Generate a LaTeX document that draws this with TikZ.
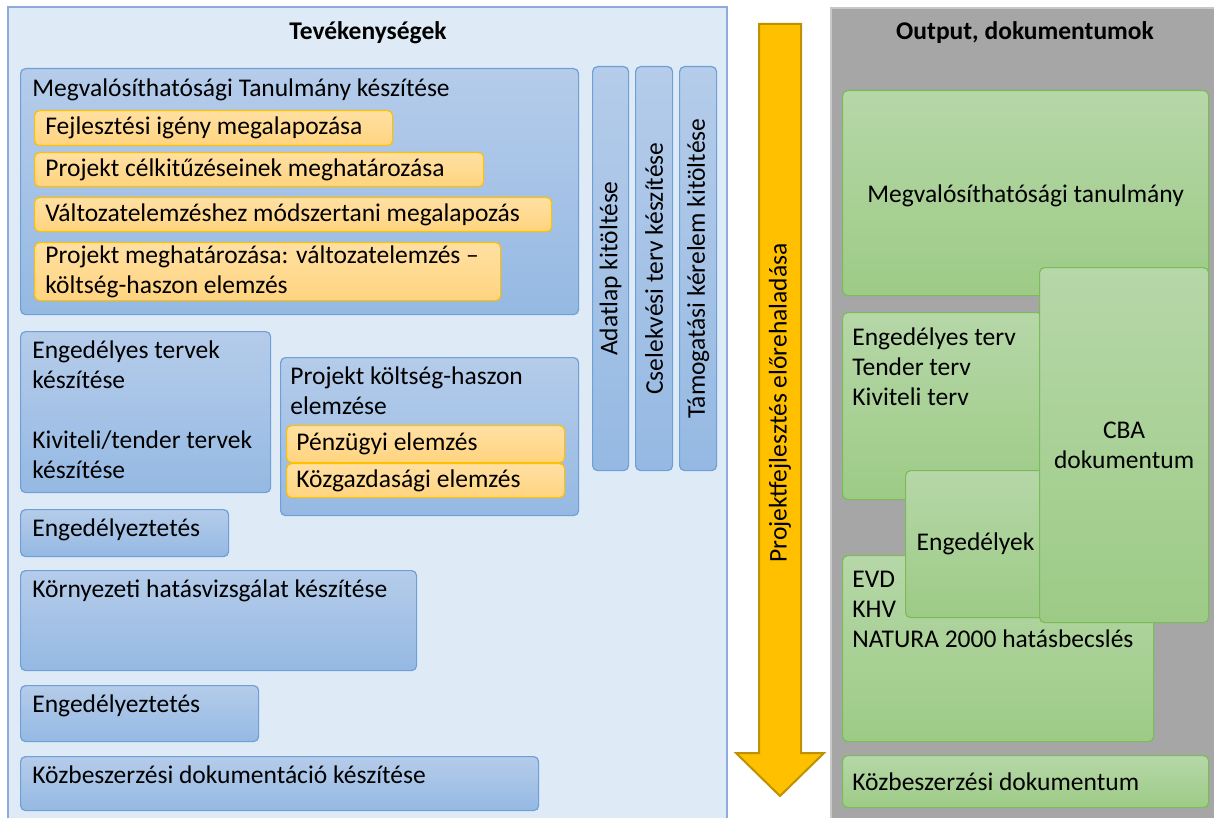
\documentclass[tikz,border=0pt]{standalone}
\usepackage{fontspec}
\setmainfont{Carlito}
\usepackage{tikz}
\usetikzlibrary{positioning}
\definecolor{panelblue}{HTML}{DEEBF7}
\definecolor{paneledge}{HTML}{8FAADC}
\definecolor{panelgray}{HTML}{A6A6A6}
\definecolor{grayedge}{HTML}{C8C8C8}
\definecolor{bluetop}{HTML}{B5CCEA}
\definecolor{bluebot}{HTML}{95B9E3}
\definecolor{blueedge}{HTML}{6E9FD6}
\definecolor{orangetop}{HTML}{FFE0A3}
\definecolor{orangebot}{HTML}{FFD47F}
\definecolor{orangeedge}{HTML}{FFC000}
\definecolor{greentop}{HTML}{B6D7A8}
\definecolor{greenbot}{HTML}{9DCB86}
\definecolor{greenedge}{HTML}{7CBB5A}
\definecolor{arrowfill}{HTML}{FFC000}
\definecolor{arrowedge}{HTML}{BF9000}

\begin{document}
\begin{tikzpicture}[
    x=0.5pt, y=-0.5pt,
    font=\fontsize{12.75}{15}\selectfont,
    box/.style={draw, rounded corners=2.5pt, anchor=north west, inner sep=0pt,
                line width=0.6pt, align=center},
    bluebox/.style={box, draw=blueedge, top color=bluetop, bottom color=bluebot},
    orangebox/.style={box, draw=orangeedge, top color=orangetop, bottom color=orangebot},
    greenbox/.style={box, draw=greenedge, top color=greentop, bottom color=greenbot},
    txt/.style={inner sep=0pt, align=left},
    title/.style={inner sep=0pt, font=\fontsize{12.75}{15}\selectfont\bfseries},
]
\useasboundingbox (0,0) rectangle (1214,818);

% panels
\draw[fill=panelblue, draw=paneledge, line width=0.8pt] (8,7) rectangle (727,830);
\draw[fill=panelgray, draw=grayedge, line width=0.8pt] (831,8) rectangle (1230,830);
\node[title] (acttitle) at (368,33) {Tevékenységek};
\node[title] (outtitle) at (1025,33) {Output, dokumentumok};

% feasibility study
\node[bluebox, minimum width=279pt, minimum height=123pt] (mt) at (20,68) {};
\node[txt, below right=5pt and 6pt of mt.north west, anchor=north west] (mtt) {Megvalósíthatósági Tanulmány készítése};
\node[orangebox, minimum width=179pt, minimum height=17.5pt] (fej) at (34,110) {};
\node[txt, right=5.5pt of fej.west] (fejt) {Fejlesztési igény megalapozása};
\node[orangebox, minimum width=224.5pt, minimum height=17pt] (cel) at (34,152) {};
\node[txt, right=5.5pt of cel.west] (celt) {Projekt célkitűzéseinek meghatározása};
\node[orangebox, minimum width=258.5pt, minimum height=17pt] (val) at (34,197) {};
\node[txt, right=5.5pt of val.west] (valt) {Változatelemzéshez módszertani megalapozás};
\node[orangebox, minimum width=233pt, minimum height=29pt] (pmeg) at (34,242) {};
\node[txt, right=5.5pt of pmeg.west] (pmegt) {Projekt meghatározása: változatelemzés –\\költség-haszon elemzés};

% vertical tasks
\node[bluebox, minimum width=18pt, minimum height=202pt] (adat) at (592,66) {};
\node[txt, rotate=90] (adatt) at (adat) {Adatlap kitöltése};
\node[bluebox, minimum width=18.5pt, minimum height=202pt] (csel) at (635,66) {};
\node[txt, rotate=90] (cselt) at (csel) {Cselekvési terv készítése};
\node[bluebox, minimum width=18.5pt, minimum height=202pt] (tam) at (679,66) {};
\node[txt, rotate=90] (tamt) at (tam) {Támogatási kérelem kitöltése};

% plans
\node[bluebox, minimum width=125pt, minimum height=80.5pt] (terv) at (20,331) {};
\node[txt, below right=4.5pt and 6pt of terv.north west, anchor=north west] (tervt)
    {Engedélyes tervek\\készítése\\[15pt]Kiviteli/tender tervek\\készítése};

% cost-benefit
\node[bluebox, minimum width=149pt, minimum height=79pt] (cba) at (280,357) {};
\node[txt, below right=4.5pt and 5pt of cba.north west, anchor=north west] (cbat)
    {Projekt költség-haszon\\elemzése};
\node[orangebox, minimum width=139pt, minimum height=18.5pt] (penz) at (286,425) {};
\node[txt, right=5pt of penz.west] (penzt) {Pénzügyi elemzés};
\node[orangebox, minimum width=139pt, minimum height=17pt] (kozg) at (286,463) {};
\node[txt, right=5pt of kozg.west] (kozgt) {Közgazdasági elemzés};

% lower tasks
\node[bluebox, minimum width=104pt, minimum height=23.5pt] (eng1) at (20,509) {};
\node[txt, below right=4.5pt and 6pt of eng1.north west, anchor=north west] (eng1t) {Engedélyeztetés};
\node[bluebox, minimum width=198pt, minimum height=50pt] (korny) at (20,570) {};
\node[txt, below right=4.5pt and 6pt of korny.north west, anchor=north west] (kornyt) {Környezeti hatásvizsgálat készítése};
\node[bluebox, minimum width=119pt, minimum height=28pt] (eng2) at (20,685) {};
\node[txt, below right=4.5pt and 6pt of eng2.north west, anchor=north west] (eng2t) {Engedélyeztetés};
\node[bluebox, minimum width=259pt, minimum height=27pt] (kozb) at (20,756) {};
\node[txt, below right=4.5pt and 6pt of kozb.north west, anchor=north west] (kozbt) {Közbeszerzési dokumentáció készítése};

% progress arrow
\draw[fill=arrowfill, draw=arrowedge, line width=1pt, line join=miter]
    (759,24) -- (801,24) -- (801,753) -- (824,753) -- (780,796) -- (736,753) -- (759,753) -- cycle;
\node[txt, rotate=90] (arrt) at (780,403) {Projektfejlesztés előrehaladása};

% outputs
\node[greenbox, minimum width=183pt, minimum height=102.5pt] (mtan) at (842,90) {};
\node[inner sep=0pt] (mtant) at ([yshift=-1.5pt]mtan.center) {Megvalósíthatósági tanulmány};
\node[greenbox, minimum width=100pt, minimum height=93.5pt] (tervd) at (842,312) {};
\node[txt, below right=7.5pt and 5pt of tervd.north west, anchor=north west] (tervdt)
    {Engedélyes terv\\Tender terv\\Kiviteli terv};
\node[greenbox, minimum width=155.5pt, minimum height=93pt] (evd) at (842,555) {};
\node[txt, below right=8pt and 5pt of evd.north west, anchor=north west] (evdt)
    {EVD\\KHV\\NATURA 2000 hatásbecslés};
\node[greenbox, minimum width=70pt, minimum height=73.5pt] (engd) at (905,470) {Engedélyek};
\node[greenbox, minimum width=84.5pt, minimum height=177.5pt] (cbad) at (1039,267) {CBA\\dokumentum};
\node[greenbox, minimum width=183pt, minimum height=26pt] (kozbd) at (842,755) {};
\node[txt, right=5pt of kozbd.west] (kozbdt) {Közbeszerzési dokumentum};

\end{tikzpicture}
\end{document}
